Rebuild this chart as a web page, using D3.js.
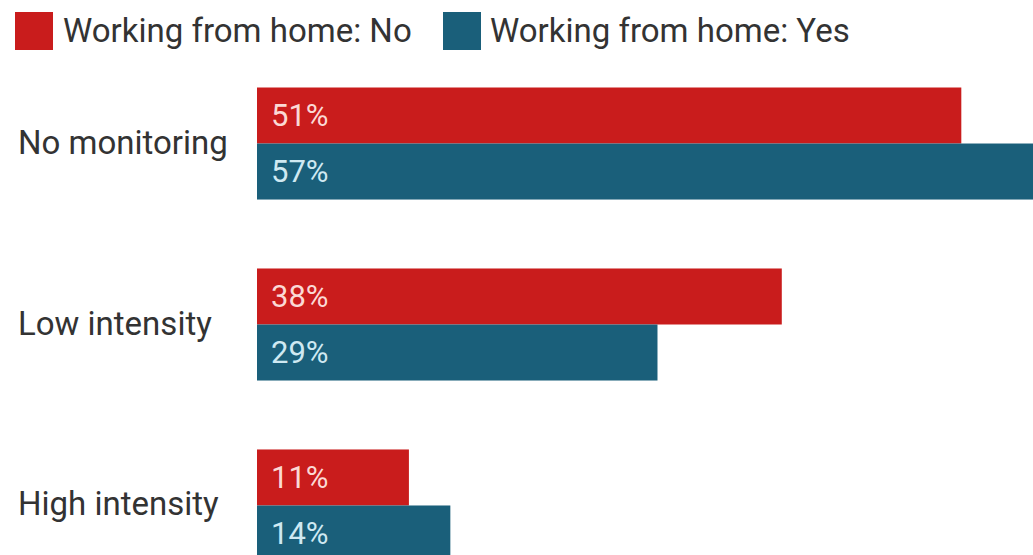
<!DOCTYPE html>
<html>
<head>
<meta charset="utf-8">
<script src="https://cdn.jsdelivr.net/npm/d3@7"></script>
<style>
  html, body { margin: 0; padding: 0; background: #fff; overflow: hidden; }
  svg { display: block; font-family: Roboto, "Noto Sans", sans-serif; }
</style>
</head>
<body>
<svg id="chart" width="1033" height="555"></svg>
<script>
// Share of workers by monitoring intensity, split by home-working status
const categories = ["No monitoring", "Low intensity", "High intensity"];
const seriesNames = ["Working from home: No", "Working from home: Yes"];
const valuesNo = [51, 38, 11];
const valuesYes = [57, 29, 14];
const seriesColors = ["#c91c1c", "#1a5f7a"];
const labelColors = ["#fbd9d5", "#cfe9f2"];

const svg = d3.select("#chart");

const x = d3.scaleLinear().domain([0, 60]).range([257, 257 + 828.6]);
const y = d3.scaleBand().domain(categories).range([87.5, 561.5]).paddingInner(0.381).paddingOuter(0);
const ySub = d3.scaleBand().domain(seriesNames).range([0, y.bandwidth()]);

const rows = categories.map((c, i) => ({
  category: c,
  items: [
    { series: seriesNames[0], value: valuesNo[i], idx: 0 },
    { series: seriesNames[1], value: valuesYes[i], idx: 1 }
  ]
}));

// Legend
const legend = svg.append("g");
const legendX = [15, 443];
seriesNames.forEach((name, i) => {
  const g = legend.append("g").attr("transform", `translate(${legendX[i]},12)`);
  g.append("rect").attr("width", 38).attr("height", 38).attr("fill", seriesColors[i]);
  g.append("text")
    .attr("x", i === 0 ? 48 : 47).attr("y", 30)
    .attr("font-size", 33).attr("fill", "#333")
    .text(name);
});

// Category labels
svg.append("g").selectAll("text").data(categories).join("text")
  .attr("x", 18)
  .attr("y", d => y(d) + y.bandwidth() / 2 + 10)
  .attr("font-size", 33).attr("fill", "#333")
  .text(d => d);

// Bars and value labels
const groups = svg.append("g").selectAll("g").data(rows).join("g")
  .attr("transform", d => `translate(0,${y(d.category)})`);

groups.selectAll("rect").data(d => d.items).join("rect")
  .attr("x", x(0))
  .attr("y", d => ySub(d.series))
  .attr("width", d => x(d.value) - x(0))
  .attr("height", ySub.bandwidth())
  .attr("fill", d => seriesColors[d.idx]);

groups.selectAll("text").data(d => d.items).join("text")
  .attr("x", x(0) + 14)
  .attr("y", d => ySub(d.series) + ySub.bandwidth() / 2 + 10.5)
  .attr("font-size", 31)
  .attr("fill", d => labelColors[d.idx])
  .text(d => d.value + "%");
</script>
</body>
</html>
